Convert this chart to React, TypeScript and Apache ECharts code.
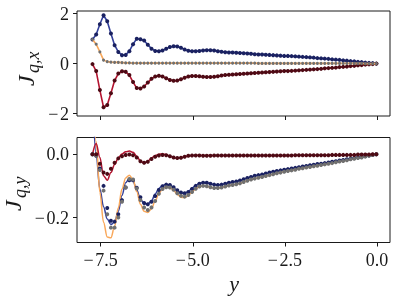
import React, { useEffect, useRef } from "react";
import * as echarts from "echarts";

const xs = [
  -7.72, -7.62, -7.52, -7.42, -7.32, -7.22, -7.12, -7.02, -6.92, -6.82,
  -6.72, -6.62, -6.52, -6.42, -6.32, -6.22, -6.12, -6.02, -5.92, -5.82,
  -5.72, -5.62, -5.52, -5.42, -5.32, -5.22, -5.12, -5.02, -4.92, -4.82,
  -4.72, -4.62, -4.52, -4.42, -4.32, -4.22, -4.12, -4.02, -3.92, -3.82,
  -3.72, -3.62, -3.52, -3.42, -3.32, -3.22, -3.12, -3.02, -2.92, -2.82,
  -2.72, -2.62, -2.52, -2.42, -2.32, -2.22, -2.12, -2.02, -1.92, -1.82,
  -1.72, -1.62, -1.52, -1.42, -1.32, -1.22, -1.12, -1.02, -0.92, -0.82,
  -0.72, -0.62, -0.52, -0.42, -0.32, -0.22, -0.12, -0.02,
];

// J_{q,x}
const topBlue = [
  0.97, 1.17, 1.58, 1.94, 1.70, 1.21, 0.74, 0.47, 0.34, 0.35,
  0.50, 0.78, 1.00, 0.98, 0.93, 0.76, 0.60, 0.51, 0.50, 0.53,
  0.60, 0.67, 0.70, 0.69, 0.64, 0.57, 0.52, 0.50, 0.50, 0.51,
  0.53, 0.54, 0.54, 0.53, 0.50, 0.48, 0.46, 0.45, 0.45, 0.44,
  0.43, 0.42, 0.41, 0.40, 0.38, 0.37, 0.37, 0.36, 0.35, 0.34,
  0.33, 0.32, 0.31, 0.31, 0.30, 0.29, 0.28, 0.27, 0.26, 0.25,
  0.24, 0.22, 0.21, 0.20, 0.19, 0.17, 0.16, 0.15, 0.13, 0.12,
  0.10, 0.09, 0.07, 0.06, 0.04, 0.03, 0.02, 0.00,
];
const topOrange = [
  0.97, 0.78, 0.47, 0.14, 0.08, 0.06, 0.05, 0.05, 0.04, 0.03,
  0.03, 0.02, 0.02, 0.02, 0.02, 0.02, 0.02, 0.02, 0.02, 0.02,
  0.02, 0.02, 0.02, 0.02, 0.02, 0.02, 0.02, 0.02, 0.02, 0.02,
  0.02, 0.02, 0.02, 0.02, 0.02, 0.02, 0.02, 0.02, 0.02, 0.02,
  0.02, 0.02, 0.02, 0.02, 0.02, 0.01, 0.01, 0.01, 0.01, 0.01,
  0.01, 0.01, 0.01, 0.01, 0.01, 0.01, 0.01, 0.01, 0.01, 0.01,
  0.01, 0.01, 0.01, 0.01, 0.01, 0.01, 0.01, 0.01, 0.01, 0.01,
  0.01, 0.01, 0.01, 0.01, 0.00, 0.00, 0.00, 0.00,
];
const topRed = [
  -0.02, -0.30, -1.06, -1.75, -1.66, -1.19, -0.68, -0.40, -0.31, -0.33,
  -0.46, -0.74, -0.98, -1.00, -0.92, -0.76, -0.61, -0.52, -0.49, -0.52,
  -0.59, -0.66, -0.69, -0.68, -0.63, -0.57, -0.52, -0.50, -0.50, -0.51,
  -0.53, -0.54, -0.54, -0.53, -0.51, -0.48, -0.46, -0.45, -0.44, -0.43,
  -0.42, -0.41, -0.40, -0.39, -0.38, -0.37, -0.36, -0.35, -0.34, -0.33,
  -0.32, -0.31, -0.30, -0.30, -0.29, -0.28, -0.27, -0.26, -0.25, -0.24,
  -0.23, -0.22, -0.21, -0.19, -0.18, -0.17, -0.16, -0.14, -0.13, -0.12,
  -0.10, -0.09, -0.07, -0.06, -0.04, -0.03, -0.02, 0.00,
];

// J_{q,y}: curves (lines)
const botBlueLine = [
  0.18, 0.0, -0.11, -0.166, -0.205, -0.222, -0.214, -0.18, -0.13, -0.09,
  -0.077, -0.085, -0.112, -0.142, -0.156, -0.158, -0.147, -0.126, -0.108, -0.099,
  -0.095, -0.097, -0.105, -0.116, -0.123, -0.124, -0.118, -0.107, -0.098, -0.092,
  -0.089, -0.09, -0.093, -0.096, -0.097, -0.096, -0.093, -0.09, -0.088, -0.086,
  -0.083, -0.079, -0.075, -0.072, -0.068, -0.066, -0.064, -0.061, -0.058, -0.055,
  -0.053, -0.051, -0.049, -0.047, -0.045, -0.043, -0.041, -0.039, -0.037, -0.035,
  -0.033, -0.031, -0.03, -0.028, -0.026, -0.024, -0.022, -0.02, -0.018, -0.016,
  -0.014, -0.012, -0.01, -0.008, -0.006, -0.004, -0.002, 0.0,
];
const botOrangeLine = [
  0.25, 0.04, -0.12, -0.215, -0.262, -0.264, -0.228, -0.17, -0.11, -0.075,
  -0.066, -0.08, -0.118, -0.158, -0.18, -0.184, -0.172, -0.148, -0.124, -0.109,
  -0.103, -0.105, -0.114, -0.127, -0.136, -0.137, -0.13, -0.119, -0.109, -0.102,
  -0.1, -0.101, -0.104, -0.107, -0.107, -0.105, -0.102, -0.099, -0.097, -0.095,
  -0.092, -0.088, -0.084, -0.08, -0.077, -0.074, -0.072, -0.069, -0.066, -0.063,
  -0.06, -0.058, -0.055, -0.053, -0.051, -0.049, -0.046, -0.044, -0.042, -0.04,
  -0.038, -0.036, -0.034, -0.032, -0.03, -0.028, -0.025, -0.023, -0.021, -0.019,
  -0.016, -0.014, -0.012, -0.01, -0.007, -0.005, -0.002, 0.0,
];
const botRedLine = [
  0.0, 0.034, -0.01, -0.068, -0.082, -0.058, -0.032, -0.012, 0.001, 0.008,
  0.01, 0.006, -0.006, -0.022, -0.028, -0.022, -0.012, -0.004, 0.0, 0.001,
  -0.001, -0.006, -0.011, -0.013, -0.011, -0.008, -0.005, -0.004, -0.003, -0.003,
  -0.004, -0.004, -0.004, -0.004, -0.004, -0.004, -0.004, -0.004, -0.004, -0.004,
  -0.004, -0.004, -0.004, -0.004, -0.004, -0.004, -0.004, -0.004, -0.004, -0.004,
  -0.004, -0.004, -0.004, -0.004, -0.004, -0.003, -0.003, -0.003, -0.003, -0.003,
  -0.003, -0.003, -0.003, -0.003, -0.003, -0.002, -0.002, -0.002, -0.002, -0.002,
  -0.002, -0.002, -0.001, -0.001, -0.001, -0.001, 0.0, 0.0,
];

// J_{q,y}: computed points (dots)
const botBlueDots = [
  0.0, -0.005, -0.045, -0.1, -0.17, -0.21, -0.213, -0.19, -0.145, -0.105,
  -0.082, -0.082, -0.106, -0.136, -0.154, -0.158, -0.15, -0.132, -0.113, -0.101,
  -0.096, -0.097, -0.104, -0.114, -0.121, -0.123, -0.119, -0.11, -0.1, -0.093,
  -0.09, -0.09, -0.093, -0.096, -0.097, -0.096, -0.093, -0.09, -0.088, -0.086,
  -0.083, -0.079, -0.075, -0.072, -0.068, -0.066, -0.064, -0.061, -0.058, -0.055,
  -0.053, -0.051, -0.049, -0.047, -0.045, -0.043, -0.041, -0.039, -0.037, -0.035,
  -0.033, -0.031, -0.03, -0.028, -0.026, -0.024, -0.022, -0.02, -0.018, -0.016,
  -0.014, -0.012, -0.01, -0.008, -0.006, -0.004, -0.002, 0.0,
];
const botOrangeDots = [
  0.0, -0.005, -0.05, -0.115, -0.19, -0.232, -0.232, -0.2, -0.15, -0.105,
  -0.078, -0.08, -0.108, -0.145, -0.168, -0.176, -0.168, -0.148, -0.125, -0.11,
  -0.104, -0.105, -0.112, -0.123, -0.131, -0.134, -0.129, -0.119, -0.109, -0.102,
  -0.1, -0.101, -0.104, -0.107, -0.107, -0.105, -0.102, -0.099, -0.097, -0.095,
  -0.092, -0.088, -0.084, -0.08, -0.077, -0.074, -0.072, -0.069, -0.066, -0.063,
  -0.06, -0.058, -0.055, -0.053, -0.051, -0.049, -0.046, -0.044, -0.042, -0.04,
  -0.038, -0.036, -0.034, -0.032, -0.03, -0.028, -0.025, -0.023, -0.021, -0.019,
  -0.016, -0.014, -0.012, -0.01, -0.007, -0.005, -0.002, 0.0,
];
const botRedDots = [
  0.0, 0.0, -0.03, -0.058, -0.062, -0.046, -0.027, -0.013, -0.006, -0.002,
  -0.001, -0.003, -0.01, -0.022, -0.027, -0.024, -0.015, -0.008, -0.004, -0.002,
  -0.003, -0.006, -0.01, -0.012, -0.011, -0.008, -0.005, -0.004, -0.004, -0.004,
  -0.005, -0.005, -0.005, -0.004, -0.004, -0.004, -0.004, -0.004, -0.004, -0.004,
  -0.004, -0.004, -0.004, -0.004, -0.004, -0.004, -0.004, -0.004, -0.004, -0.004,
  -0.004, -0.004, -0.004, -0.004, -0.004, -0.003, -0.003, -0.003, -0.003, -0.003,
  -0.003, -0.003, -0.003, -0.003, -0.003, -0.002, -0.002, -0.002, -0.002, -0.002,
  -0.002, -0.002, -0.001, -0.001, -0.001, -0.001, 0.0, 0.0,
];

const xTicks = [-7.5, -5.0, -2.5, 0.0];
const topYTicks = [-2, 0, 2];
const botYTicks = [-0.2, 0.0];

const BLUE = "#33409a";
const BLUE_DOT = "#1a2160";
const ORANGE = "#f9a85b";
const ORANGE_DOT = "#707070";
const RED = "#b3132f";
const RED_DOT = "#4d0a14";
const INK = "#1a1a1a";
const SERIF = "'Liberation Serif', 'DejaVu Serif', serif";

const pairs = (x: number[], y: number[]) => x.map((v, i) => [v, y[i]]);
const fmt = (v: number, d: number) =>
  (v < 0 ? "\u2212\u200a" : "") + Math.abs(v).toFixed(d);

export default function App() {
  const ref = useRef<HTMLDivElement>(null);
  useEffect(() => {
    const chart = echarts.init(ref.current!, null, { renderer: "svg" });
    const gridBase = {
      left: 77,
      width: 313,
      show: true,
      borderColor: INK,
      borderWidth: 1,
      backgroundColor: "transparent",
      containLabel: false,
    };
    const xAxisBase = (gridIndex: number, showLabels: boolean) => ({
      type: "value",
      gridIndex,
      position: "bottom",
      min: -8.14,
      max: 0.35,
      axisLine: { show: false, onZero: false },
      splitLine: { show: false },
      axisTick: {
        show: true,
        customValues: xTicks,
        length: 4,
        lineStyle: { color: INK, width: 1 },
      },
      axisLabel: {
        show: showLabels,
        customValues: xTicks,
        formatter: (v: number) => fmt(v, 1),
        fontFamily: SERIF,
        fontSize: 18,
        color: INK,
        margin: 8,
      },
    });
    const yAxisBase = (gridIndex: number, min: number, max: number, ticks: number[], dec: number) => ({
      type: "value",
      gridIndex,
      position: "left",
      min,
      max,
      axisLine: { show: false, onZero: false },
      splitLine: { show: false },
      axisTick: {
        show: true,
        customValues: ticks,
        length: 4,
        lineStyle: { color: INK, width: 1 },
      },
      axisLabel: {
        customValues: ticks,
        formatter: (v: number) => fmt(v, dec),
        fontFamily: SERIF,
        fontSize: 18,
        color: INK,
        margin: 8,
      },
    });
    const lineWithDots = (data: number[], lc: string, dc: string, size: number, z: number) => ({
      type: "line",
      xAxisIndex: 0,
      yAxisIndex: 0,
      data: pairs(xs, data),
      symbol: "circle",
      symbolSize: size,
      showSymbol: true,
      lineStyle: { color: lc, width: 1.6 },
      itemStyle: { color: dc, borderWidth: 0 },
      z,
    });
    const smoothLine = (data: number[], lc: string, z: number) => ({
      type: "line",
      xAxisIndex: 1,
      yAxisIndex: 1,
      data: pairs(xs, data),
      showSymbol: false,
      symbol: "none",
      smooth: 0.35,
      smoothMonotone: "x",
      clip: true,
      lineStyle: { color: lc, width: 1.5 },
      z,
    });
    const dots = (data: number[], dc: string, z: number) => ({
      type: "scatter",
      xAxisIndex: 1,
      yAxisIndex: 1,
      data: pairs(xs, data),
      symbol: "circle",
      symbolSize: 4,
      itemStyle: { color: dc, borderWidth: 0, opacity: 1 },
      z,
    });
    const subLabel = (x: number, y: number, sub: string) => ({
      type: "group",
      x,
      y,
      rotation: Math.PI / 2,
      children: [
        {
          type: "text",
          x: 0,
          y: 0,
          style: { text: "J", font: `italic 24px ${SERIF}`, fill: INK, align: "left", verticalAlign: "middle" },
        },
        {
          type: "text",
          x: 13,
          y: 7,
          style: { text: sub, font: `italic 18px ${SERIF}`, fill: INK, align: "left", verticalAlign: "middle" },
        },
      ],
    });
    const option = {
      animation: false,
      grid: [
        { ...gridBase, top: 11, height: 105 },
        { ...gridBase, top: 137.5, height: 105 },
      ],
      xAxis: [xAxisBase(0, false), xAxisBase(1, true)],
      yAxis: [
        yAxisBase(0, -2.1, 2.11, topYTicks, 0),
        yAxisBase(1, -0.279, 0.053, botYTicks, 1),
      ],
      series: [
        lineWithDots(topBlue, BLUE, BLUE_DOT, 4, 2),
        lineWithDots(topOrange, ORANGE, ORANGE_DOT, 3, 3),
        lineWithDots(topRed, RED, RED_DOT, 4, 2),
        smoothLine(botBlueLine, BLUE, 2),
        smoothLine(botOrangeLine, ORANGE, 2),
        smoothLine(botRedLine, RED, 2),
        dots(botBlueDots, BLUE_DOT, 4),
        dots(botOrangeDots, ORANGE_DOT, 4),
        dots(botRedDots, RED_DOT, 4),
      ],
      graphic: [
        subLabel(26, 86, "q,x"),
        subLabel(13, 211, "q,y"),
        {
          type: "text",
          x: 234,
          y: 283,
          style: { text: "y", font: `italic 22px ${SERIF}`, fill: INK, align: "center", verticalAlign: "middle" },
        },
      ],
    };
    chart.setOption(option as any);
    return () => chart.dispose();
  }, []);
  return (
    <div
      ref={ref}
      style={{ position: "fixed", left: 0, top: 0, width: 399, height: 297 }}
    />
  );
}
